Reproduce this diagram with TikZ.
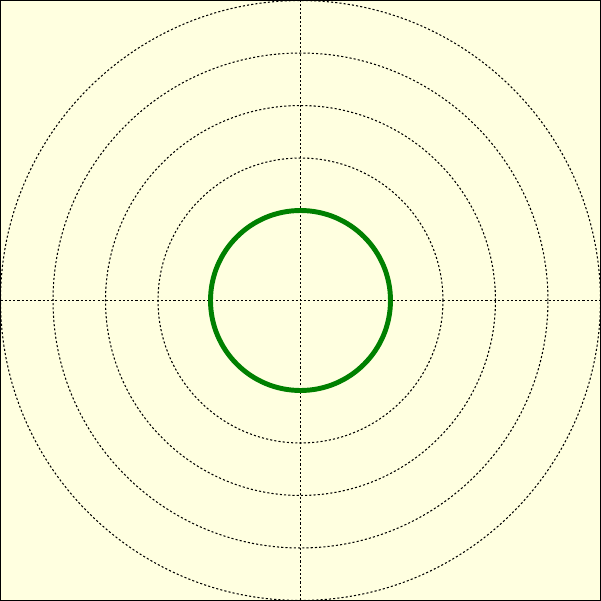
\documentclass[tikz,border=0pt]{standalone}
\usepackage{tikz}
\usepackage{xcolor}
\definecolor{bgyellow}{HTML}{FFFFE0}
\definecolor{ringgreen}{HTML}{008000}

\begin{document}
\begin{tikzpicture}[
    guide/.style={black, line width=0.3pt, dash pattern=on 0.6pt off 0.6pt},
    ring/.style={ringgreen, line width=1.4pt}
]
    % 背景
    \draw[fill=bgyellow, line width=0.3pt] (-3,-3) rectangle (3,3);

    % 坐标轴
    \coordinate (o) at (0,0);
    \draw[guide] (-3,0) -- (3,0);
    \draw[guide] (0,-3) -- (0,3);

    % 同心虚线圆
    \foreach \r in {1.425, 1.95, 2.475, 3.0} {
        \draw[guide] (o) circle (\r);
    }

    % 绿色圆
    \draw[ring] (o) circle (0.9);
\end{tikzpicture}
\end{document}
